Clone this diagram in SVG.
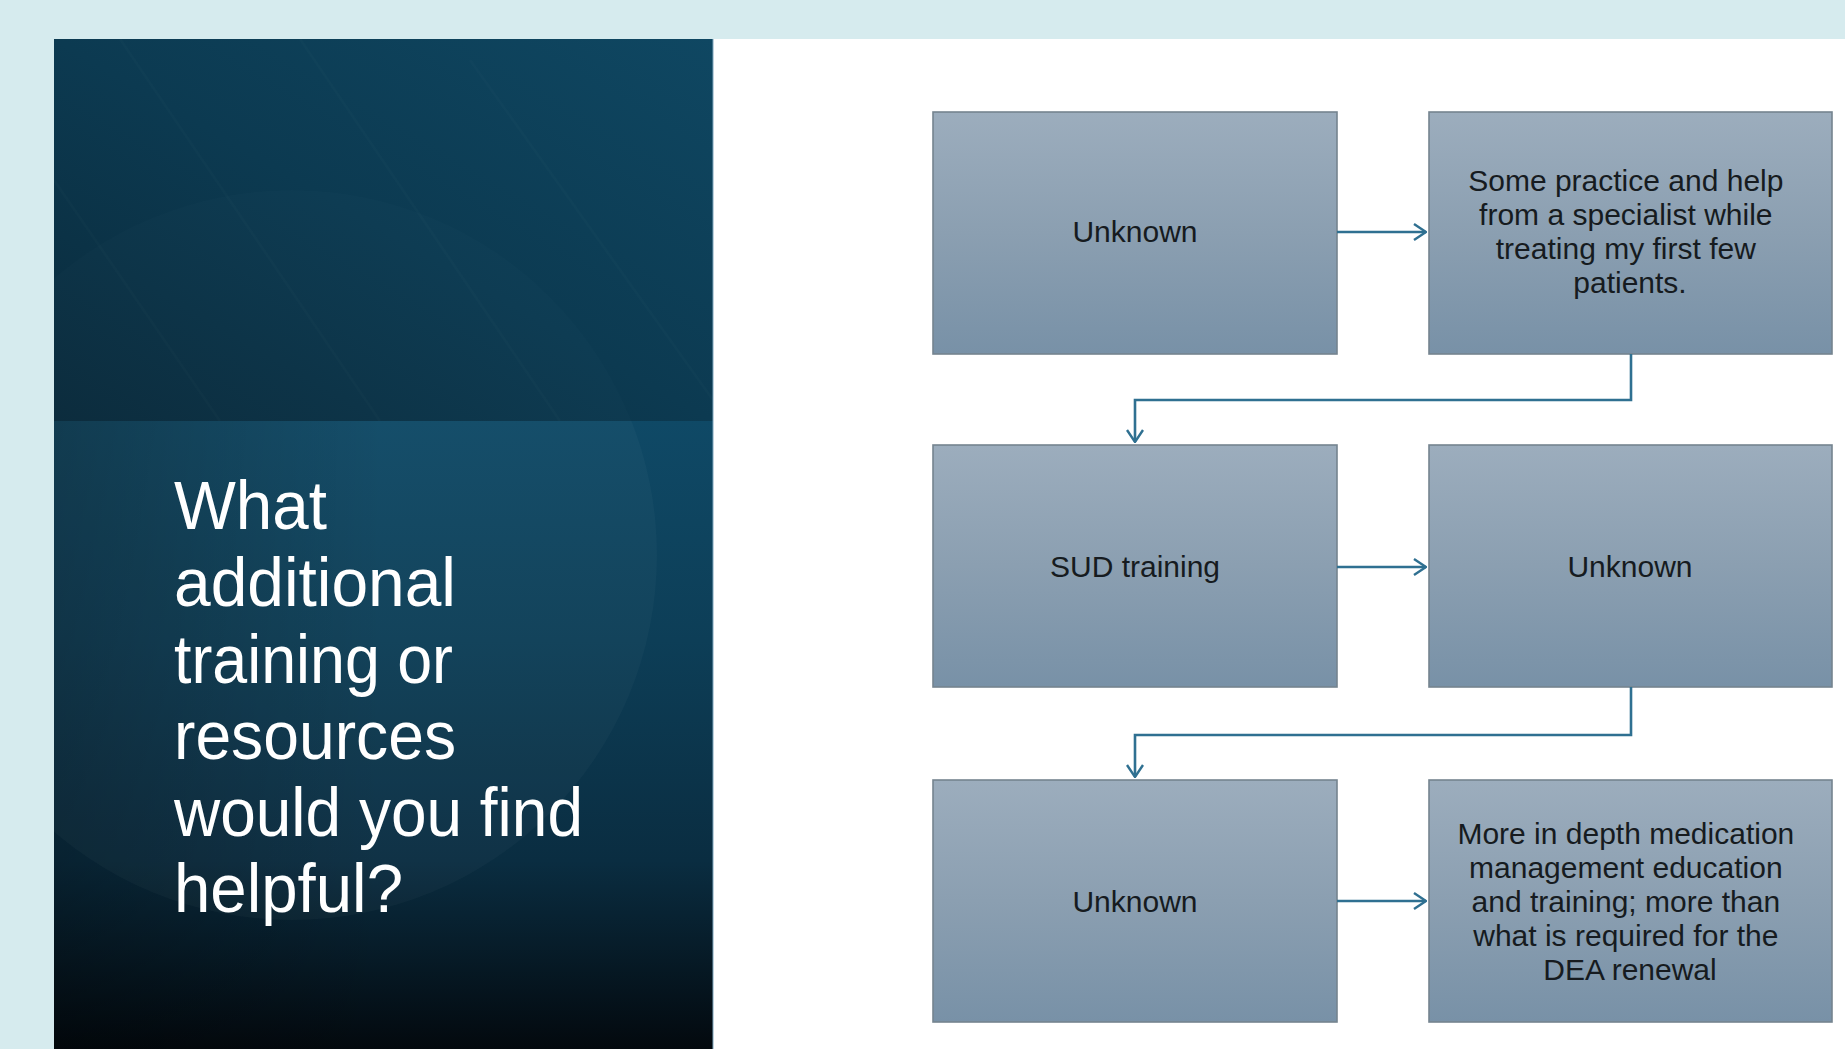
<svg xmlns="http://www.w3.org/2000/svg" width="1845" height="1049" viewBox="0 0 1845 1049">
  <style>
    .box { stroke: #75848f; stroke-width: 1.6; fill: url(#boxGrad); }
    .lbl { font-family: "Liberation Sans", Arial, sans-serif; font-size: 30px; fill: #161b20; text-anchor: middle; }
    .title { font-family: "Liberation Sans", Arial, sans-serif; font-size: 68px; fill: #ffffff; }
    .conn { fill: none; stroke: #2f7091; stroke-width: 2.6; marker-end: url(#arrow); }
  </style>
  <defs>
    <linearGradient id="boxGrad" x1="0" y1="0" x2="0" y2="1">
      <stop offset="0" stop-color="#9cadbd"/>
      <stop offset="0.5" stop-color="#8b9fb1"/>
      <stop offset="1" stop-color="#7891a7"/>
    </linearGradient>
    <linearGradient id="upperGrad" x1="0" y1="1" x2="1" y2="0">
      <stop offset="0" stop-color="#0a2a3b"/>
      <stop offset="0.5" stop-color="#0c3a51"/>
      <stop offset="1" stop-color="#0f4762"/>
    </linearGradient>
    <linearGradient id="lowerGrad" x1="0" y1="0" x2="0" y2="1">
      <stop offset="0" stop-color="#0f4966"/>
      <stop offset="0.35" stop-color="#0d3e57"/>
      <stop offset="0.7" stop-color="#0a2d41"/>
      <stop offset="1" stop-color="#03090e"/>
    </linearGradient>
    <linearGradient id="lowerSide" x1="0" y1="0" x2="1" y2="0">
      <stop offset="0" stop-color="#000000" stop-opacity="0.25"/>
      <stop offset="0.5" stop-color="#000000" stop-opacity="0"/>
      <stop offset="1" stop-color="#000000" stop-opacity="0"/>
    </linearGradient>
    <clipPath id="upperClip">
      <rect x="54" y="39" width="659" height="382"/>
    </clipPath>
    <clipPath id="lowerClip">
      <rect x="54" y="421" width="659" height="628"/>
    </clipPath>
    <marker id="arrow" markerUnits="userSpaceOnUse" viewBox="0 0 14 18" refX="13" refY="9" markerWidth="14" markerHeight="18" orient="auto">
      <path d="M1,1 L13,9 L1,17" fill="none" stroke="#2f7091" stroke-width="2.4"/>
    </marker>
  </defs>

  <!-- background -->
  <rect x="0" y="0" width="1845" height="1049" fill="#d6ebee"/>
  <rect x="713" y="39" width="1132" height="1010" fill="#ffffff"/>

  <!-- left panel -->
  <g id="title-panel">
    <g clip-path="url(#lowerClip)">
      <rect x="54" y="421" width="659" height="628" fill="url(#lowerGrad)"/>
      <rect x="54" y="421" width="659" height="628" fill="url(#lowerSide)"/>
      <circle cx="292" cy="555" r="365" fill="#ffffff" fill-opacity="0.028"/>
    </g>
    <g clip-path="url(#upperClip)">
      <rect x="54" y="39" width="659" height="382" fill="url(#upperGrad)"/>
      <circle cx="292" cy="555" r="365" fill="#ffffff" fill-opacity="0.012"/>
      <g stroke="#ffffff" stroke-opacity="0.014" stroke-width="3">
        <line x1="120" y1="39" x2="380" y2="421"/>
        <line x1="300" y1="39" x2="560" y2="421"/>
        <line x1="470" y1="60" x2="713" y2="400"/>
        <line x1="54" y1="180" x2="220" y2="421"/>
      </g>
    </g>
    <line x1="713" y1="39" x2="713" y2="1049" stroke="#7fa6bd" stroke-width="1"/>
    <text class="title">
      <tspan x="174" y="529" textLength="153" lengthAdjust="spacingAndGlyphs">What</tspan>
      <tspan x="174" y="606" textLength="282" lengthAdjust="spacingAndGlyphs">additional</tspan>
      <tspan x="174" y="683" textLength="279" lengthAdjust="spacingAndGlyphs">training or</tspan>
      <tspan x="174" y="759" textLength="282" lengthAdjust="spacingAndGlyphs">resources</tspan>
      <tspan x="174" y="836" textLength="409" lengthAdjust="spacingAndGlyphs">would you find</tspan>
      <tspan x="174" y="912" textLength="229" lengthAdjust="spacingAndGlyphs">helpful?</tspan>
    </text>
  </g>

  <!-- nodes -->
  <g id="n1">
    <rect class="box" x="933" y="112" width="404" height="242"/>
    <text class="lbl" x="1135" y="242">Unknown</text>
  </g>
  <g id="n2">
    <rect class="box" x="1429" y="112" width="403" height="242"/>
    <text class="lbl">
      <tspan x="1630" y="191">Some practice and help</tspan>
      <tspan x="1630" y="225">from a specialist while</tspan>
      <tspan x="1630" y="259">treating my first few</tspan>
      <tspan x="1630" y="293">patients.</tspan>
    </text>
  </g>
  <g id="n3">
    <rect class="box" x="933" y="445" width="404" height="242"/>
    <text class="lbl" x="1135" y="577">SUD training</text>
  </g>
  <g id="n4">
    <rect class="box" x="1429" y="445" width="403" height="242"/>
    <text class="lbl" x="1630" y="577">Unknown</text>
  </g>
  <g id="n5">
    <rect class="box" x="933" y="780" width="404" height="242"/>
    <text class="lbl" x="1135" y="912">Unknown</text>
  </g>
  <g id="n6">
    <rect class="box" x="1429" y="780" width="403" height="242"/>
    <text class="lbl">
      <tspan x="1630" y="844">More in depth medication</tspan>
      <tspan x="1630" y="878">management education</tspan>
      <tspan x="1630" y="912">and training; more than</tspan>
      <tspan x="1630" y="946">what is required for the</tspan>
      <tspan x="1630" y="980">DEA renewal</tspan>
    </text>
  </g>

  <!-- connectors -->
  <g id="connectors">
    <path class="conn" d="M1337,232 L1426,232"/>
    <path class="conn" d="M1631,354 L1631,400 L1135,400 L1135,442"/>
    <path class="conn" d="M1337,567 L1426,567"/>
    <path class="conn" d="M1631,687 L1631,735 L1135,735 L1135,777"/>
    <path class="conn" d="M1337,901 L1426,901"/>
  </g>
</svg>
